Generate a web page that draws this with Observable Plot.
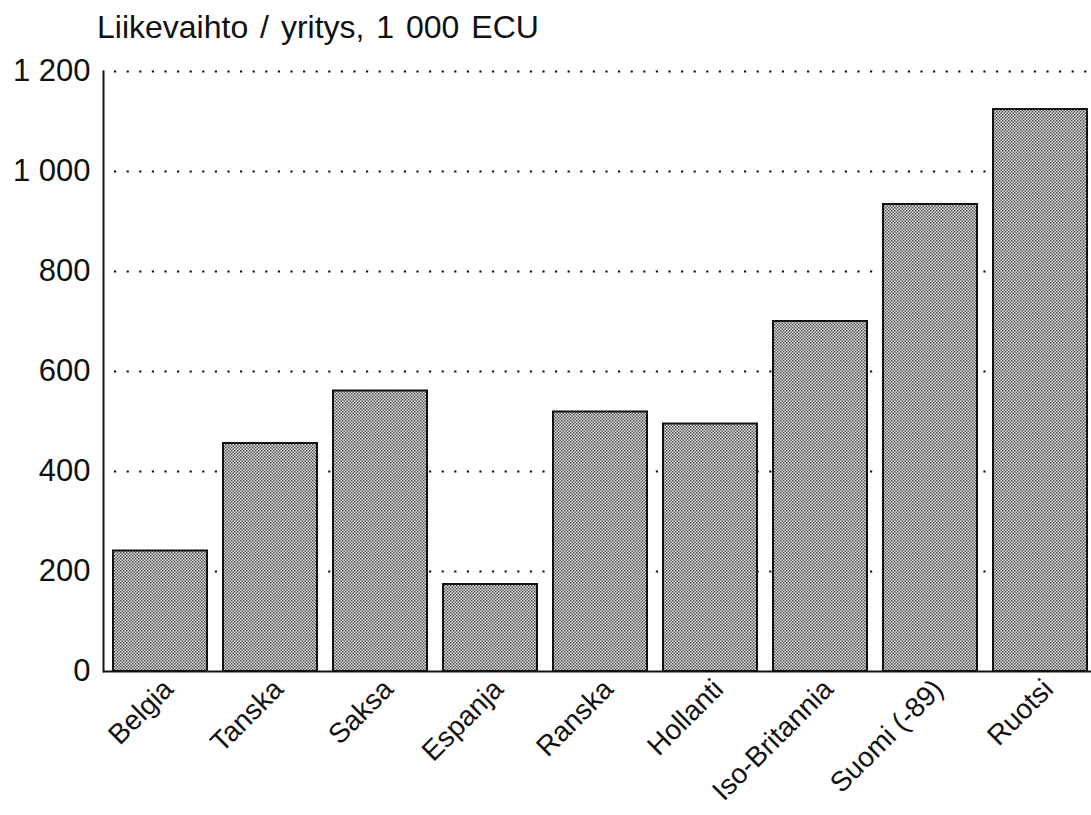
<!DOCTYPE html>
<html>
<head>
<meta charset="utf-8">
<script src="https://cdn.jsdelivr.net/npm/d3@7"></script>
<script src="https://cdn.jsdelivr.net/npm/@observablehq/plot@0.6"></script>
<style>
  html, body { margin: 0; padding: 0; background: #fff; }
  #wrap { position: relative; width: 1091px; height: 815px; overflow: hidden; }
  #title {
    position: absolute; left: 97px; top: 11px;
    font-family: "Liberation Sans", Arial, Helvetica, sans-serif;
    font-size: 32px; line-height: 32px; color: #111; white-space: nowrap;
    word-spacing: 3px;
  }
</style>
</head>
<body>
<div id="wrap">
  <div id="title">Liikevaihto / yritys, 1 000 ECU</div>
  <div id="chart"></div>
</div>
<script>
const categories = ["Belgia", "Tanska", "Saksa", "Espanja", "Ranska", "Hollanti", "Iso-Britannia", "Suomi (-89)", "Ruotsi"];
const values = [241, 456, 561, 174, 519, 495, 700, 934, 1124];
const yTicks = [0, 200, 400, 600, 800, 1000, 1200];
const yTickLabels = ["0", "200", "400", "600", "800", "1 000", "1 200"];

const data = categories.map((c, i) => ({country: c, value: values[i]}));
const font = "'Liberation Sans', Arial, Helvetica, sans-serif";

const chart = Plot.plot({
  width: 1091,
  height: 815,
  marginLeft: 103,
  marginRight: 0,
  marginTop: 71,
  marginBottom: 144,
  style: {fontFamily: font, background: "#fff", color: "#111", overflow: "visible"},
  x: {domain: categories, range: [103, 1097], paddingInner: 0.145, paddingOuter: 0.072, axis: null, label: null},
  y: {domain: [0, 1200], axis: null, label: null},
  marks: [
    Plot.gridY(yTicks.filter(d => d > 0), {stroke: "#111", strokeOpacity: 1, strokeWidth: 2.2, strokeDasharray: "2.2,10.4", strokeDashoffset: -11}),
    Plot.barY(data, {x: "country", y: "value", fill: "url(#stipple)", stroke: "#111", strokeWidth: 2}),
    Plot.ruleY([0], {stroke: "#111", strokeWidth: 2}),
    Plot.frame({anchor: "left", stroke: "#111", strokeWidth: 2}),
    Plot.axisY(yTicks, {tickSize: 0, tickPadding: 13, fontSize: 31, label: null, tickFormat: (d) => yTickLabels[yTicks.indexOf(d)], fill: "#111"}),
    Plot.axisX({tickSize: 0, tickRotate: -45, tickPadding: 12, dx: 8, dy: 1, fontSize: 28, label: null, fill: "#111"})
  ]
});

const svg = d3.select(chart);
const defs = svg.insert("defs", ":first-child");
const pat = defs.append("pattern")
  .attr("id", "stipple").attr("patternUnits", "userSpaceOnUse")
  .attr("width", 3).attr("height", 3);
pat.append("rect").attr("width", 3).attr("height", 3).attr("fill", "#dadada");
pat.append("rect").attr("x", 0).attr("y", 0).attr("width", 1.4).attr("height", 1.4).attr("fill", "#484848");
pat.append("rect").attr("x", 1.5).attr("y", 1.5).attr("width", 1.4).attr("height", 1.4).attr("fill", "#484848");

document.getElementById("chart").appendChild(chart);
</script>
</body>
</html>
